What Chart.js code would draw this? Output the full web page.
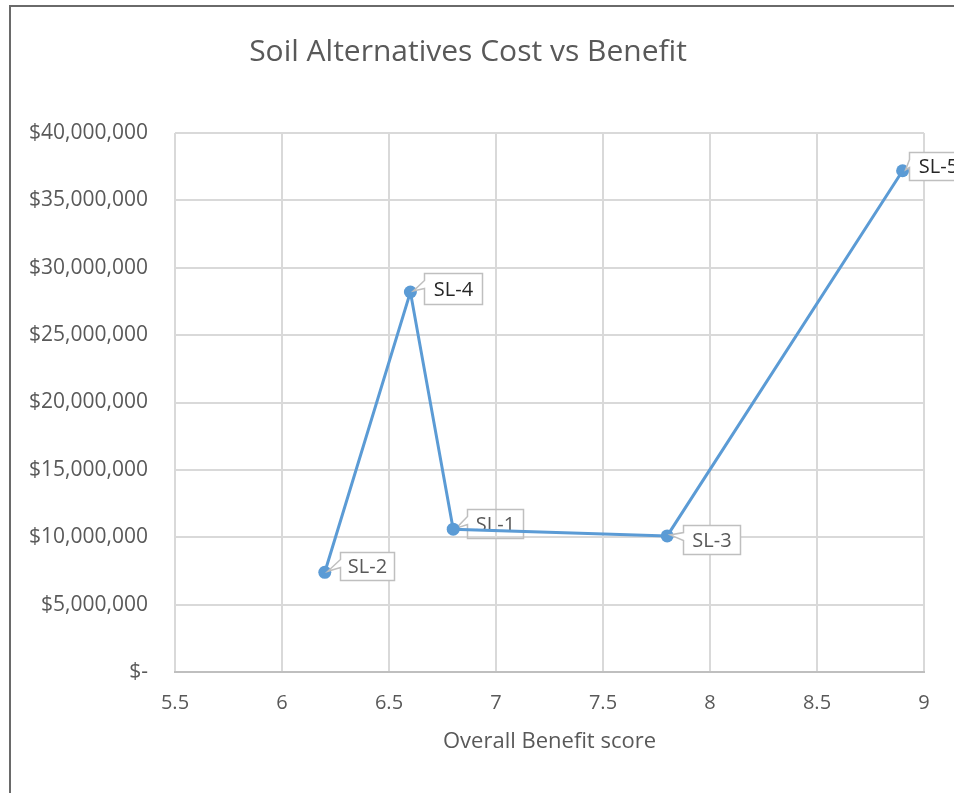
<!DOCTYPE html>
<html>
<head>
<meta charset="utf-8">
<script src="https://cdn.jsdelivr.net/npm/chart.js@4/dist/chart.umd.min.js"></script>
<style>
  html, body { margin: 0; padding: 0; background: #ffffff; }
  #wrap { position: relative; width: 954px; height: 793px; overflow: hidden; }
  canvas { display: block; }
</style>
</head>
<body>
<div id="wrap"><canvas id="chart" width="954" height="793"></canvas></div>
<script>
// Soil alternatives: overall benefit score vs cost
const alternatives = ['SL-2', 'SL-4', 'SL-1', 'SL-3', 'SL-5'];
const benefitScore = [6.2, 6.6, 6.8, 7.8, 8.9];
const cost = [7400000, 28200000, 10600000, 10100000, 37200000];

// Axis tick labels
const xTickLabels = ['5.5', '6', '6.5', '7', '7.5', '8', '8.5', '9'];
const yTickLabels = ['$-', '$5,000,000', '$10,000,000', '$15,000,000', '$20,000,000',
                     '$25,000,000', '$30,000,000', '$35,000,000', '$40,000,000'];

const FONT = "'Open Sans', 'DejaVu Sans', sans-serif";
const TEXT_GREY = '#595959';
const GRID_GREY = '#d9d9d9';
const LINE_BLUE = '#5b9bd5';

// Callout boxes: offset of box from its point, box size, text colour, and whether it sits under the line
const calloutStyle = {
  'SL-2': { dx: 15, dy: -20, w: 54, h: 28, color: '#595959', under: false },
  'SL-4': { dx: 14, dy: -19, w: 58, h: 31, color: '#262626', under: false },
  'SL-1': { dx: 14, dy: -20, w: 56, h: 29, color: '#595959', under: true },
  'SL-3': { dx: 16, dy: -11, w: 57, h: 29, color: '#595959', under: false },
  'SL-5': { dx: 6,  dy: -19, w: 58, h: 28, color: '#262626', under: false }
};

function drawCallout(ctx, px, py, name, filled) {
  const s = calloutStyle[name];
  const x = Math.round(px + s.dx) + 0.5;
  const y = Math.round(py + s.dy) + 0.5;
  const tipX = px + 3, tipY = py - 1;
  ctx.save();
  ctx.beginPath();
  ctx.moveTo(x, y);
  ctx.lineTo(x + s.w, y);
  ctx.lineTo(x + s.w, y + s.h);
  ctx.lineTo(x, y + s.h);
  ctx.lineTo(x, y + 15);
  ctx.lineTo(tipX, tipY);
  ctx.lineTo(x, y + 7);
  ctx.closePath();
  if (filled) {
    ctx.fillStyle = '#ffffff';
    ctx.fill();
  }
  ctx.strokeStyle = '#bfbfbf';
  ctx.lineWidth = 1.5;
  ctx.stroke();
  ctx.fillStyle = s.color;
  ctx.font = '20px ' + FONT;
  ctx.textAlign = 'center';
  ctx.textBaseline = 'middle';
  ctx.fillText(name, x + s.w / 2, y + s.h / 2 + 1);
  ctx.restore();
}

const calloutPlugin = {
  id: 'callouts',
  beforeDatasetsDraw(chart) {
    const meta = chart.getDatasetMeta(0);
    meta.data.forEach((pt, i) => {
      const name = alternatives[i];
      if (calloutStyle[name].under) drawCallout(chart.ctx, pt.x, pt.y, name, false);
    });
  },
  afterDatasetsDraw(chart) {
    const meta = chart.getDatasetMeta(0);
    meta.data.forEach((pt, i) => {
      const name = alternatives[i];
      if (!calloutStyle[name].under) drawCallout(chart.ctx, pt.x, pt.y, name, true);
    });
  }
};

// White page with the frame lines along the top and left edges
const framePlugin = {
  id: 'frame',
  beforeDraw(chart) {
    const ctx = chart.ctx;
    ctx.save();
    ctx.fillStyle = '#ffffff';
    ctx.fillRect(0, 0, chart.width, chart.height);
    ctx.strokeStyle = '#6a6a6a';
    ctx.lineWidth = 2;
    ctx.beginPath();
    ctx.moveTo(10, chart.height);
    ctx.lineTo(10, 6);
    ctx.lineTo(chart.width, 6);
    ctx.stroke();
    ctx.restore();
  }
};

const points = benefitScore.map((b, i) => ({ x: b, y: cost[i] }));

new Chart(document.getElementById('chart'), {
  type: 'scatter',
  data: {
    datasets: [{
      label: 'Cost',
      data: points,
      showLine: true,
      tension: 0,
      borderColor: LINE_BLUE,
      borderWidth: 3,
      pointRadius: 6.5,
      pointHoverRadius: 6.5,
      pointBackgroundColor: LINE_BLUE,
      pointBorderWidth: 0
    }]
  },
  options: {
    responsive: false,
    animation: false,
    events: [],
    layout: { padding: { left: 12, right: 30, top: 0, bottom: 0 } },
    plugins: {
      legend: { display: false },
      tooltip: { enabled: false },
      title: {
        display: true,
        text: 'Soil Alternatives Cost vs Benefit',
        color: TEXT_GREY,
        font: { family: FONT, size: 30, weight: 'normal', lineHeight: 1.2 },
        padding: { top: 34, bottom: 63 }
      }
    },
    scales: {
      x: {
        type: 'linear',
        min: 5.5,
        max: 9,
        ticks: {
          stepSize: 0.5,
          color: TEXT_GREY,
          font: { family: FONT, size: 20 },
          padding: 19,
          maxRotation: 0,
          callback: (v, i) => xTickLabels[i]
        },
        grid: { color: GRID_GREY, lineWidth: 2, drawTicks: false },
        border: { display: true, color: '#bfbfbf', width: 2 },
        title: {
          display: true,
          text: 'Overall Benefit score',
          color: TEXT_GREY,
          font: { family: FONT, size: 22 },
          padding: { top: 0, bottom: 38 }
        },
        afterFit(scale) { scale.height = 121; }
      },
      y: {
        type: 'linear',
        min: 0,
        max: 40000000,
        ticks: {
          stepSize: 5000000,
          color: TEXT_GREY,
          font: { family: FONT, size: 21 },
          padding: 27,
          callback: (v, i) => yTickLabels[i]
        },
        grid: { color: GRID_GREY, lineWidth: 2, drawTicks: false },
        border: { display: false },
        afterFit(scale) { scale.width = 163; }
      }
    }
  },
  plugins: [framePlugin, calloutPlugin]
});
</script>
</body>
</html>
